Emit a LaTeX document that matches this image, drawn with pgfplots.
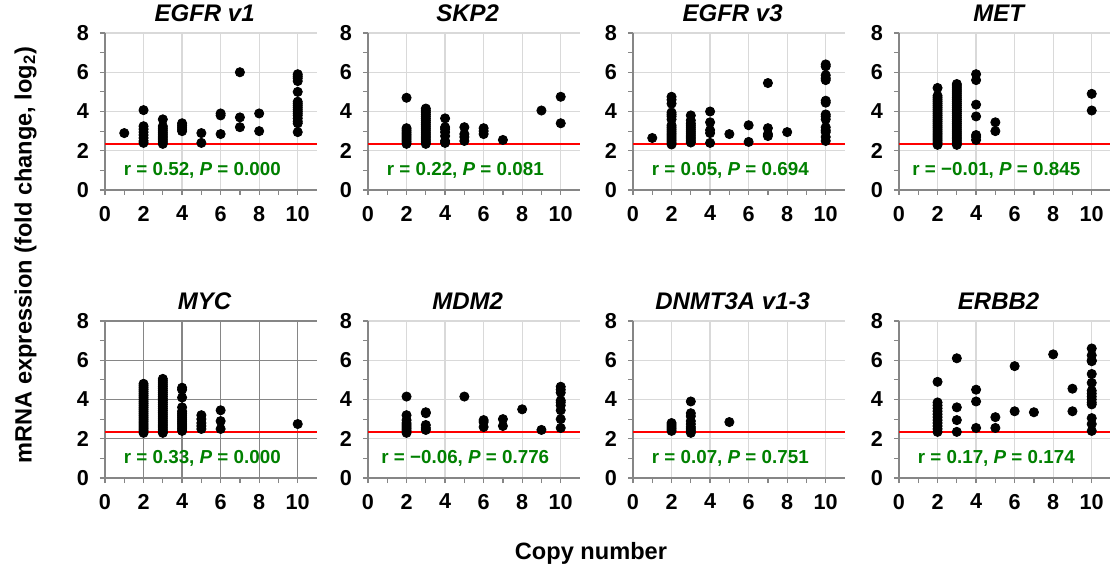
\documentclass[border=0pt]{standalone}
\usepackage{fontspec}
\setmainfont{Liberation Sans}
\usepackage{pgfplots}
\pgfplotsset{compat=1.18}
\definecolor{rgreen}{RGB}{0,128,0}
\definecolor{gridgray}{RGB}{217,217,217}
\definecolor{axgray}{RGB}{134,134,134}

\pgfplotsset{
  panel/.style={
    scale only axis, width=106pt, height=78.5pt,
    xmin=0, xmax=11, ymin=0, ymax=8,
    xtick={0,2,...,10}, ytick={0,2,...,8},
    minor x tick num=1, minor y tick num=1,
    axis x line*=bottom, axis y line*=left,
    axis line style={axgray, line width=0.6pt, -},
    tick style={axgray, line width=0.6pt},
    major tick length=2.5pt, minor tick length=2.5pt,
    tick align=outside,
    xmajorgrids, ymajorgrids,
    major grid style={gridgray, line width=0.6pt},
    ticklabel style={font=\fontsize{10.8}{12}\selectfont\bfseries},
    /pgf/number format/assume math mode=true,
    xticklabel style={yshift=-2pt}, yticklabel style={xshift=-2pt},
    title style={at={(0.47,1)}, anchor=south, yshift=-4pt,
      font=\fontsize{12}{14}\selectfont\bfseries\itshape},
    anchor=south west, clip=false,
  },
  dots/.style={only marks, mark=*, mark size=2.3pt, black},
  cutoff/.style={red, line width=1pt},
}
\tikzset{rlab/.style={font=\fontsize{9.4}{11}\selectfont\bfseries, text=rgreen}}

\begin{document}
\begin{tikzpicture}
\path[use as bounding box] (0,0) rectangle (555pt,-286pt);

% ---- row 1 ----
\begin{axis}[panel, at={(52.5pt,-95pt)}, title={EGFR v1}]
\addplot[cutoff] coordinates {(0,2.32) (11,2.32)};
\addplot[dots] coordinates {
(1,2.9)
(2,4.07)(2,3.25)(2,3.1)(2,2.95)(2,2.8)(2,2.65)(2,2.5)(2,2.4)
(3,3.6)(3,3.25)(3,3.15)(3,3.05)(3,2.95)(3,2.85)(3,2.75)(3,2.65)(3,2.55)(3,2.45)(3,2.35)
(4,3.4)(4,3.3)(4,3.2)(4,3.1)(4,3.0)
(5,2.9)(5,2.4)
(6,3.9)(6,3.8)(6,2.85)
(7,6.0)(7,3.7)(7,3.2)
(8,3.9)(8,3.0)
(10,5.9)(10,5.8)(10,5.7)(10,5.55)(10,5.0)(10,4.5)(10,4.4)(10,4.3)(10,4.2)(10,4.1)(10,4.0)(10,3.9)(10,3.8)(10,3.65)(10,3.5)(10,3.4)(10,2.95)
};
\node[rlab] at (axis cs:5.05,1.0) {r = 0.52, \textit{P} = 0.000};
\end{axis}

\begin{axis}[panel, at={(184pt,-95pt)}, title={SKP2}]
\addplot[cutoff] coordinates {(0,2.32) (11,2.32)};
\addplot[dots] coordinates {
(2,4.7)(2,3.15)(2,3.05)(2,2.95)(2,2.85)(2,2.75)(2,2.65)(2,2.55)(2,2.45)(2,2.35)
(3,4.15)(3,4.05)(3,3.95)(3,3.85)(3,3.75)(3,3.65)(3,3.55)(3,3.45)(3,3.35)(3,3.25)(3,3.15)(3,3.05)(3,2.95)(3,2.85)(3,2.75)(3,2.65)(3,2.55)(3,2.45)(3,2.35)
(4,3.65)(4,3.2)(4,3.1)(4,2.95)(4,2.75)(4,2.5)(4,2.4)
(5,3.2)(5,2.85)(5,2.7)(5,2.5)
(6,3.15)(6,3.0)(6,2.85)
(7,2.55)
(9,4.05)
(10,4.75)(10,3.4)
};
\node[rlab] at (axis cs:5.05,1.0) {r = 0.22, \textit{P} = 0.081};
\end{axis}

\begin{axis}[panel, at={(316.5pt,-95pt)}, title={EGFR v3}]
\addplot[cutoff] coordinates {(0,2.32) (11,2.32)};
\addplot[dots] coordinates {
(1,2.65)
(2,4.75)(2,4.6)(2,4.4)(2,3.95)(2,3.85)(2,3.75)(2,3.6)(2,3.3)(2,3.2)(2,3.1)(2,3.0)(2,2.9)(2,2.8)(2,2.7)(2,2.6)(2,2.5)(2,2.4)(2,2.32)
(3,3.8)(3,3.55)(3,3.4)(3,3.3)(3,3.2)(3,3.1)(3,3.0)(3,2.9)(3,2.8)(3,2.7)(3,2.6)(3,2.5)(3,2.42)
(4,4.0)(4,3.45)(4,3.05)(4,2.9)(4,2.4)
(5,2.85)
(6,3.3)(6,2.45)
(7,5.45)(7,3.15)(7,2.85)(7,2.75)
(8,2.95)
(10,6.4)(10,6.3)(10,5.85)(10,5.7)(10,5.6)(10,4.55)(10,4.45)(10,3.85)(10,3.75)(10,3.6)(10,3.2)(10,3.05)(10,2.95)(10,2.7)(10,2.5)
};
\node[rlab] at (axis cs:5.05,1.0) {r = 0.05, \textit{P} = 0.694};
\end{axis}

\begin{axis}[panel, at={(449.5pt,-95pt)}, title={MET}]
\addplot[cutoff] coordinates {(0,2.32) (11,2.32)};
\addplot[dots] coordinates {
(2,5.2)(2,4.8)(2,4.7)(2,4.6)(2,4.5)(2,4.4)(2,4.3)(2,4.2)(2,4.1)(2,4.0)(2,3.9)(2,3.8)(2,3.7)(2,3.6)(2,3.5)(2,3.4)(2,3.3)(2,3.2)(2,3.1)(2,3.0)(2,2.9)(2,2.8)(2,2.7)(2,2.6)(2,2.5)(2,2.4)(2,2.3)
(3,5.4)(3,5.3)(3,5.2)(3,5.1)(3,5.0)(3,4.9)(3,4.8)(3,4.7)(3,4.6)(3,4.5)(3,4.4)(3,4.3)(3,4.2)(3,4.1)(3,4.0)(3,3.9)(3,3.8)(3,3.7)(3,3.6)(3,3.5)(3,3.4)(3,3.3)(3,3.2)(3,3.1)(3,3.0)(3,2.9)(3,2.8)(3,2.7)(3,2.6)(3,2.5)(3,2.4)(3,2.3)
(4,5.9)(4,5.6)(4,4.35)(4,3.75)(4,2.8)(4,2.7)(4,2.55)
(5,3.45)(5,3.0)
(10,4.9)(10,4.05)
};
\node[rlab] at (axis cs:5.05,1.0) {r = −0.01, \textit{P} = 0.845};
\end{axis}

% ---- row 2 ----
\begin{axis}[panel, at={(52.5pt,-239pt)}, title={MYC},
  major grid style={axgray, line width=0.6pt}]
\addplot[cutoff] coordinates {(0,2.32) (11,2.32)};
\addplot[dots] coordinates {
(2,4.8)(2,4.7)(2,4.6)(2,4.5)(2,4.4)(2,4.3)(2,4.2)(2,4.1)(2,4.0)(2,3.9)(2,3.8)(2,3.7)(2,3.6)(2,3.5)(2,3.4)(2,3.3)(2,3.2)(2,3.1)(2,3.0)(2,2.9)(2,2.8)(2,2.7)(2,2.6)(2,2.5)(2,2.4)(2,2.3)
(3,5.05)(3,4.95)(3,4.85)(3,4.75)(3,4.65)(3,4.55)(3,4.45)(3,4.35)(3,4.25)(3,4.15)(3,4.05)(3,3.95)(3,3.85)(3,3.75)(3,3.65)(3,3.55)(3,3.45)(3,3.35)(3,3.25)(3,3.15)(3,3.05)(3,2.95)(3,2.85)(3,2.75)(3,2.65)(3,2.55)(3,2.45)(3,2.35)(3,2.3)
(4,4.6)(4,4.5)(4,4.1)(4,3.6)(4,3.4)(4,3.3)(4,3.2)(4,3.1)(4,3.0)(4,2.9)(4,2.8)(4,2.7)(4,2.6)(4,2.5)(4,2.4)
(5,3.2)(5,3.0)(5,2.8)(5,2.65)(5,2.5)
(6,3.45)(6,2.9)(6,2.5)
(10,2.75)
};
\node[rlab] at (axis cs:5.05,1.0) {r = 0.33, \textit{P} = 0.000};
\end{axis}

\begin{axis}[panel, at={(184pt,-239pt)}, title={MDM2}]
\addplot[cutoff] coordinates {(0,2.32) (11,2.32)};
\addplot[dots] coordinates {
(2,4.15)(2,3.2)(2,2.95)(2,2.8)(2,2.7)(2,2.6)(2,2.5)(2,2.4)(2,2.3)
(3,3.35)(3,3.3)(3,2.7)(3,2.55)(3,2.45)
(5,4.15)
(6,2.95)(6,2.85)(6,2.6)
(7,3.0)(7,2.65)
(8,3.5)
(9,2.45)
(10,4.65)(10,4.5)(10,4.35)(10,3.95)(10,3.85)(10,3.7)(10,3.45)(10,3.0)(10,2.55)
};
\node[rlab] at (axis cs:5.05,1.0) {r = −0.06, \textit{P} = 0.776};
\end{axis}

\begin{axis}[panel, at={(316.5pt,-239pt)}, title={DNMT3A v1-3}]
\addplot[cutoff] coordinates {(0,2.32) (11,2.32)};
\addplot[dots] coordinates {
(2,2.8)(2,2.7)(2,2.6)(2,2.5)(2,2.4)
(3,3.9)(3,3.3)(3,3.15)(3,2.9)(3,2.75)(3,2.6)(3,2.5)(3,2.4)(3,2.3)
(5,2.85)
};
\node[rlab] at (axis cs:5.05,1.0) {r = 0.07, \textit{P} = 0.751};
\end{axis}

\begin{axis}[panel, at={(449.5pt,-239pt)}, title={ERBB2}]
\addplot[cutoff] coordinates {(0,2.32) (11,2.32)};
\addplot[dots] coordinates {
(2,4.9)(2,3.85)(2,3.7)(2,3.55)(2,3.4)(2,3.25)(2,3.1)(2,2.95)(2,2.8)(2,2.65)(2,2.5)(2,2.35)
(3,6.1)(3,3.6)(3,2.95)(3,2.35)
(4,4.5)(4,3.9)(4,2.55)
(5,3.1)(5,2.55)
(6,5.7)(6,3.4)
(7,3.35)
(8,6.3)
(9,4.55)(9,3.4)
(10,6.6)(10,6.25)(10,6.0)(10,5.95)(10,5.3)(10,4.85)(10,4.45)(10,4.3)(10,4.15)(10,4.0)(10,3.85)(10,3.75)(10,3.05)(10,2.75)(10,2.4)
};
\node[rlab] at (axis cs:5.05,1.0) {r = 0.17, \textit{P} = 0.174};
\end{axis}

\node[rotate=90, font=\fontsize{11.8}{13}\selectfont\bfseries] at (12.75pt,-127.5pt)
  {mRNA expression (fold change, log\textsubscript{2})};
\node[font=\fontsize{11.8}{13}\selectfont\bfseries] at (295.5pt,-276.5pt) {Copy number};
\end{tikzpicture}
\end{document}
